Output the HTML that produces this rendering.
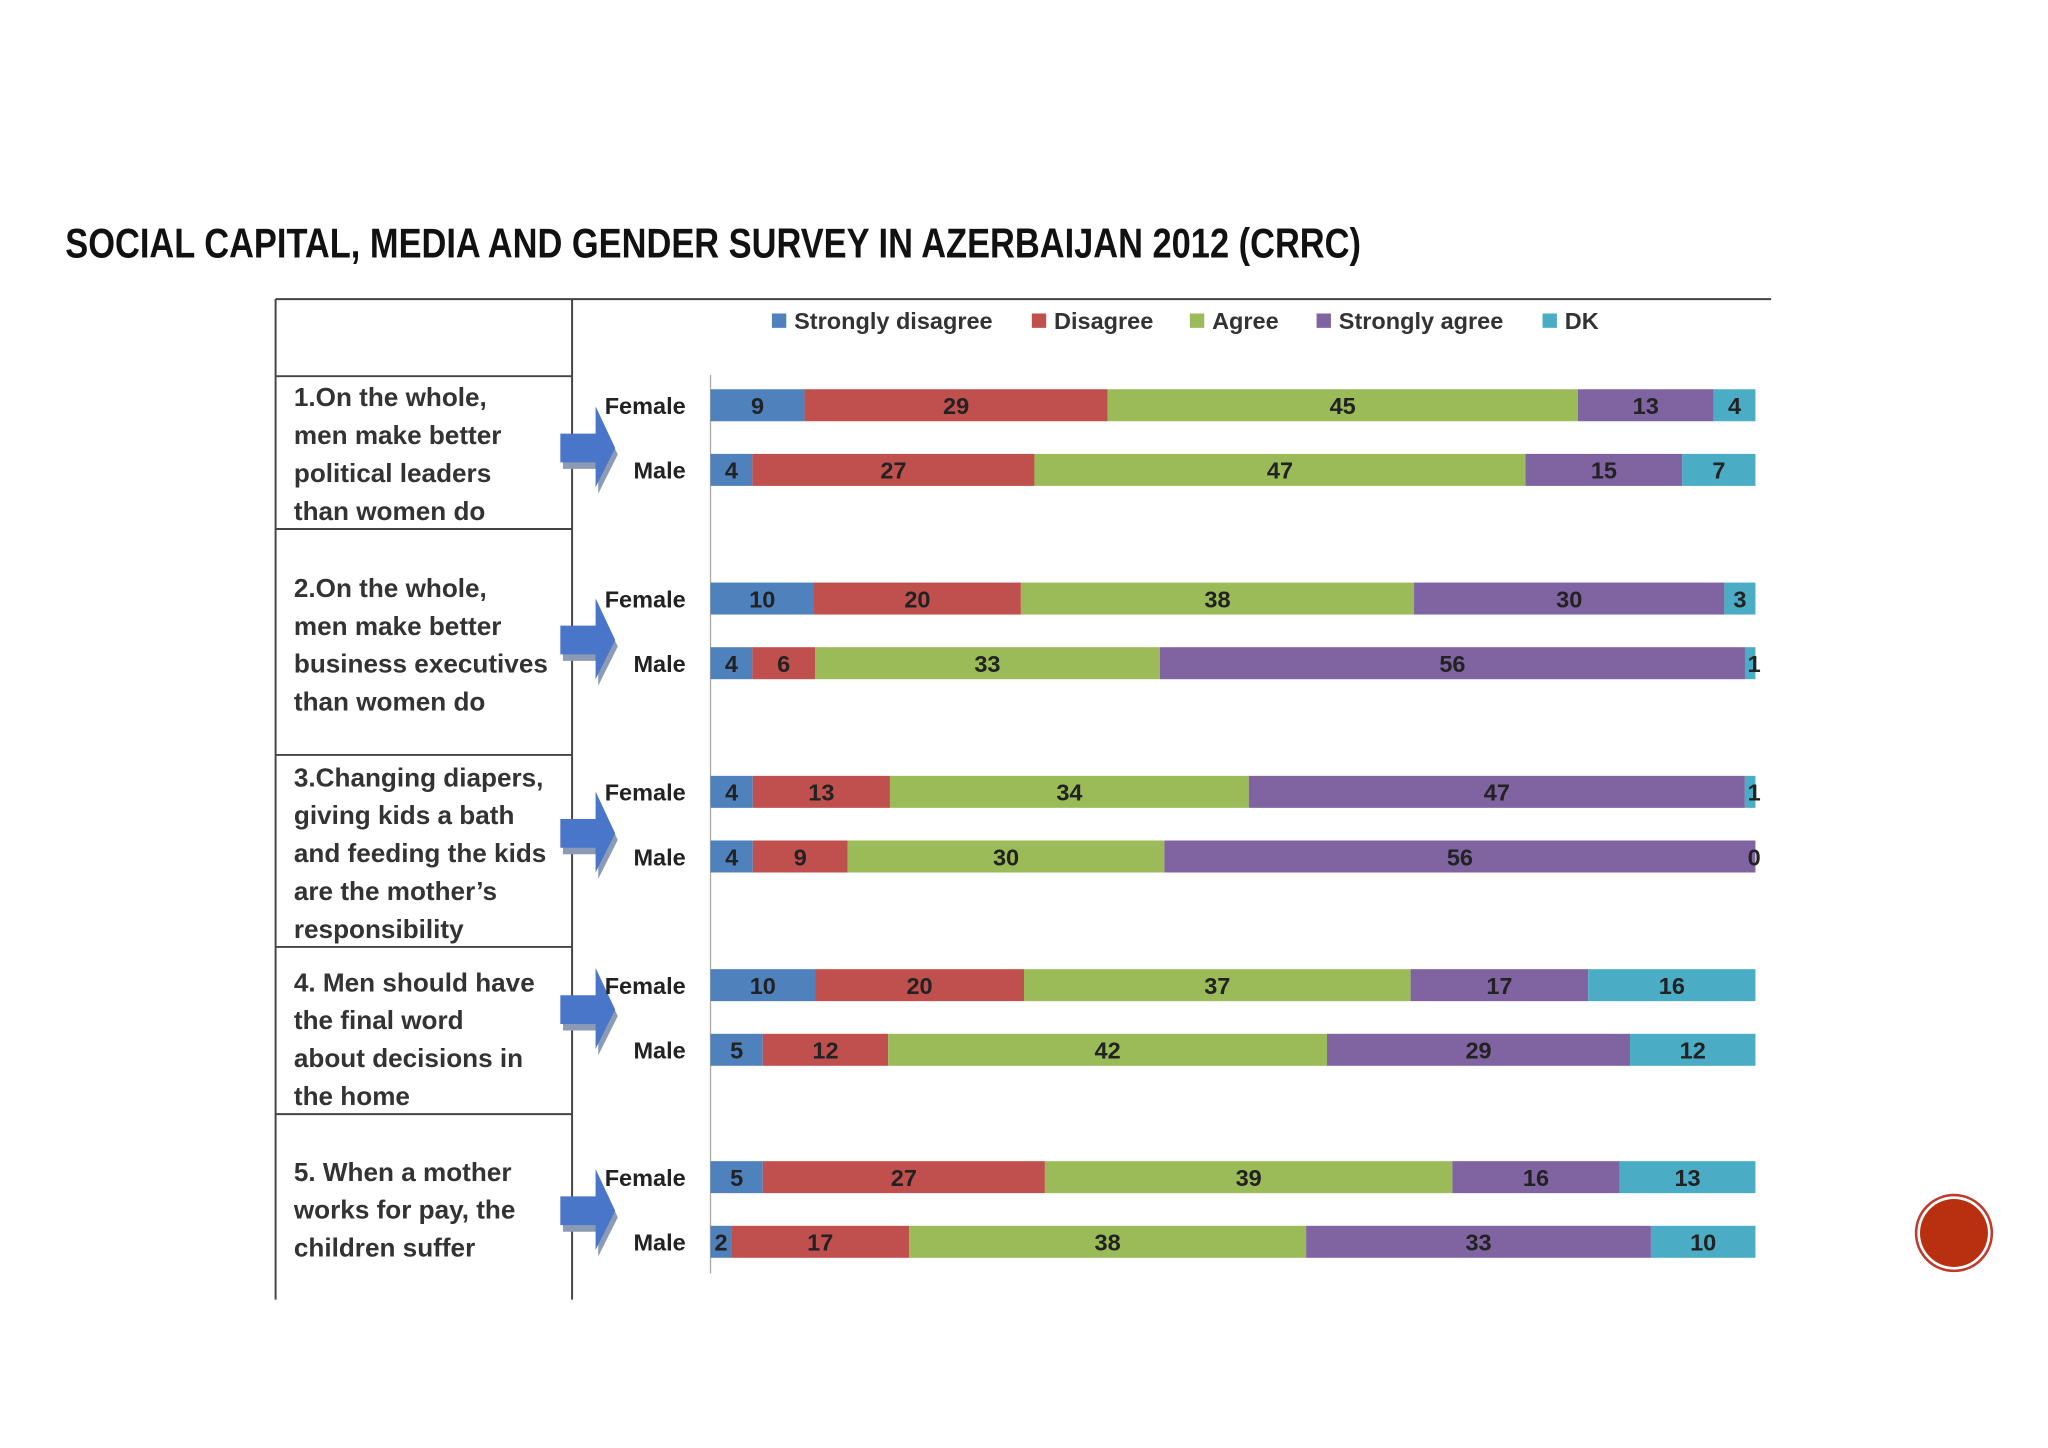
<!DOCTYPE html>
<html><head><meta charset="utf-8"><style>
html,body{margin:0;padding:0;background:#fff;}
svg{display:block;}
</style></head><body>
<svg id="chart" width="2048" height="1448" viewBox="0 0 1568 1108.6" xmlns="http://www.w3.org/2000/svg" font-family="'Liberation Sans', sans-serif">
<rect width="1568" height="1108.6" fill="#fff"/>
<text x="50" y="197" font-family="'Liberation Sans Narrow','Liberation Sans',sans-serif" font-weight="bold" font-size="32" textLength="992" lengthAdjust="spacingAndGlyphs" fill="#111">SOCIAL CAPITAL, MEDIA AND GENDER SURVEY  IN AZERBAIJAN 2012 (CRRC)</text>
<g id="table" stroke="#444" stroke-width="1.5">
<line x1="211" y1="229" x2="1356" y2="229"/>
<line x1="211" y1="229" x2="211" y2="995"/>
<line x1="438" y1="229" x2="438" y2="995"/>
<line x1="211" y1="288" x2="438" y2="288"/>
<line x1="211" y1="405" x2="438" y2="405"/>
<line x1="211" y1="578" x2="438" y2="578"/>
<line x1="211" y1="725" x2="438" y2="725"/>
<line x1="211" y1="853" x2="438" y2="853"/>
</g>
<line x1="544" y1="287" x2="544" y2="975" stroke="#aaa" stroke-width="1"/>
<g id="questions" font-weight="bold" font-size="20" fill="#333"></g>
<g id="arrows"></g>
<g id="legend"></g>
<g id="bars"></g>
<g>
<circle cx="1496" cy="944" r="29" fill="#fff" stroke="#c0392b" stroke-width="2"/>
<circle cx="1496" cy="944" r="26" fill="#b8300f"/>
</g>
<script>
const NS='http://www.w3.org/2000/svg';
const seriesNames=['Strongly disagree','Disagree','Agree','Strongly agree','DK'];
const colors=['#4F81BD','#C0504D','#9BBB59','#8064A2','#4BACC6'];
const groupLabels=['Female','Male'];
const q1Female=[9,29,45,13,4];
const q1Male=[4,27,47,15,7];
const q2Female=[10,20,38,30,3];
const q2Male=[4,6,33,56,1];
const q3Female=[4,13,34,47,1];
const q3Male=[4,9,30,56,0];
const q4Female=[10,20,37,17,16];
const q4Male=[5,12,42,29,12];
const q5Female=[5,27,39,16,13];
const q5Male=[2,17,38,33,10];
const questions=[
 ['1.On the whole,','men make better','political leaders','than women do'],
 ['2.On the whole,','men make better','business executives','than women do'],
 ['3.Changing diapers,','giving kids a bath','and feeding the kids','are the mother\u2019s','responsibility'],
 ['4. Men should have','the final word','about decisions in','the home'],
 ['5. When a mother','works for pay, the','children suffer']
];
const rows=[[q1Female,q1Male],[q2Female,q2Male],[q3Female,q3Male],[q4Female,q4Male],[q5Female,q5Male]];
const qTextY=[304,450,595,752,897];
const arrowY=[343,490,638,773,927];
const groupY=[310,458,606,754,901];
const x0=544,x1=1344;
function xScale(p){return x0+(x1-x0)*p/100;}
function mk(tag,attrs,parent){const e=document.createElementNS(NS,tag);for(const k in attrs)e.setAttribute(k,attrs[k]);parent.appendChild(e);return e;}
// questions
const qg=document.getElementById('questions');
questions.forEach((lines,i)=>{
 lines.forEach((l,j)=>{
  const t=mk('text',{x:225,y:qTextY[i]+j*29+7},qg);
  
  
  t.textContent=l;
 });
});
// arrows
const ag=document.getElementById('arrows');
arrowY.forEach((cy,i)=>{
 const g=mk('g',{},ag);
 
 
 const pts=(dx,dy)=>[[429,cy-11],[456,cy-11],[456,cy-32],[471,cy],[456,cy+30],[456,cy+11],[429,cy+11]].map(p=>(p[0]+dx)+','+(p[1]+dy)).join(' ');
 mk('polygon',{points:pts(2,5),fill:'#8c9bb5'},g);
 mk('polygon',{points:pts(0,0),fill:'#4a76c9'},g);
});
// legend
const lg=document.getElementById('legend');
const legX=[591,790,911,1008,1181];
seriesNames.forEach((n,i)=>{
 const g=mk('g',{},lg);
 
 
 mk('rect',{x:legX[i],y:240,width:11,height:11,fill:colors[i]},g);
 const t=mk('text',{x:legX[i]+17,y:252,'font-size':18,'font-weight':'bold',fill:'#333'},g);
 t.textContent=n;
});
// bars
const bg=document.getElementById('bars');
rows.forEach((pair,qi)=>{
 pair.forEach((vals,gi)=>{
  const y=groupY[qi]+gi*49.5-12;
  const lab=mk('text',{x:525,y:y+19,'text-anchor':'end','font-size':18,'font-weight':'bold',fill:'#222'},bg);
  
  
  lab.textContent=groupLabels[gi];
  const tot=vals.reduce((a,b)=>a+b,0);
  let acc=0;
  vals.forEach((v,si)=>{
   const xa=xScale(acc/tot*100),xb=xScale((acc+v)/tot*100);
   acc+=v;
   const r=mk('rect',{x:xa,y:y,width:Math.max(0,xb-xa),height:24.5,fill:colors[si]},bg);
   
   
   let cx=(xa+xb)/2;
   if(xb-xa<10)cx=Math.min(xb,1343);
   const t=mk('text',{x:cx,y:y+19,'text-anchor':'middle','font-size':18,'font-weight':'bold',fill:'#222'},bg);
   
   
   t.textContent=v;
  });
 });
});
</script>
</svg>
</body></html>
